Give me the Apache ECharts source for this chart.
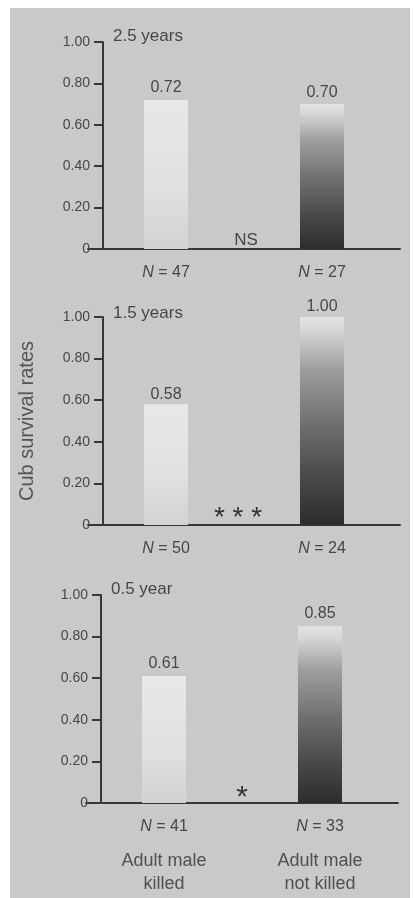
<!DOCTYPE html>
<html>
<head>
<meta charset="utf-8">
<script src="https://cdn.jsdelivr.net/npm/echarts@6/dist/echarts.min.js"></script>
<style>
  html, body { margin: 0; padding: 0; background: #ffffff; }
  #bg { position: absolute; left: 10px; top: 8px; right: 4px; bottom: 0; background: #c9c9c9; }
  #chart { position: absolute; left: 0; top: 0; width: 414px; height: 898px; }
</style>
</head>
<body>
<div id="bg"></div>
<div id="chart"></div>
<script>
// ---- data ----
const panelTitles = ['2.5 years', '1.5 years', '0.5 year'];
const groups = ['Adult male\nkilled', 'Adult male\nnot killed'];
const killedRates = [0.72, 0.58, 0.61];
const notKilledRates = [0.70, 1.00, 0.85];
const killedN = [47, 50, 41];
const notKilledN = [27, 24, 33];
const significance = ['NS', '* * *', '*'];
const yTicks = [0, 0.2, 0.4, 0.6, 0.8, 1.0];
const yAxisTitle = 'Cub survival rates';

// ---- layout ----
const FONT = '"Liberation Sans", Arial, sans-serif';
const TXT = '#474747';
const AX = '#383838';
const panelTops = [42, 317, 595];
const panelH = 207;
const titleOffsets = [-14, -12, -14];
const labelDist = [4, 2, 5];

const chart = echarts.init(document.getElementById('chart'), null, { renderer: 'canvas' });

const lightGrad = new echarts.graphic.LinearGradient(0, 0, 0, 1, [
  { offset: 0, color: '#e8e8e8' },
  { offset: 0.6, color: '#e0e0e0' },
  { offset: 1, color: '#d2d2d2' }
]);
const darkGrad = new echarts.graphic.LinearGradient(0, 0, 0, 1, [
  { offset: 0, color: '#e2e2e2' },
  { offset: 0.06, color: '#d8d8d8' },
  { offset: 0.25, color: '#9e9e9e' },
  { offset: 0.55, color: '#6a6a6a' },
  { offset: 0.8, color: '#454545' },
  { offset: 1, color: '#2c2c2c' }
]);

const grids = [], xAxes = [], yAxes = [], series = [], titles = [], graphics = [];
const sigPos = [[246, 240], [238, 518], [242, 798]];
const sigSize = [17, 28, 30];

for (let p = 0; p < 3; p++) {
  const shift = p === 2 ? -2 : 0;
  grids.push({ left: 88 + shift, width: 312, top: panelTops[p], height: panelH + (p === 0 ? 0 : 1) });
  const cats = [0, 1].map(i => {
    const n = i === 0 ? killedN[p] : notKilledN[p];
    let s = '{i|N}{n| = ' + n + '}';
    if (p === 2) {
      const lines = groups[i].split('\n');
      s += '\n{s| }\n' + lines.map(l => '{g|' + l + '}').join('\n');
    }
    return s;
  });
  xAxes.push({
    type: 'category', gridIndex: p, data: cats,
    axisLine: { show: true, lineStyle: { color: AX, width: 2 } },
    axisTick: { show: false },
    axisLabel: {
      margin: 14, color: TXT, fontFamily: FONT, interval: 0,
      rich: {
        i: { fontStyle: 'italic', fontSize: 16, lineHeight: 20, color: TXT, fontFamily: FONT },
        n: { fontSize: 16, lineHeight: 20, color: TXT, fontFamily: FONT },
        s: { fontSize: 4, lineHeight: 13 },
        g: { fontSize: 18, lineHeight: 23, color: '#505050', fontFamily: FONT }
      }
    }
  });
  yAxes.push({
    type: 'value', gridIndex: p, min: 0, max: 1, interval: 0.2, offset: -15,
    name: p === 1 ? yAxisTitle : '',
    nameLocation: 'middle', nameGap: 66, nameRotate: 90,
    nameTextStyle: { fontSize: 20, color: '#555', fontFamily: FONT },
    axisLine: { show: true, lineStyle: { color: AX, width: 2 } },
    axisTick: { show: true, inside: false, length: 9, lineStyle: { color: AX, width: 2 } },
    splitLine: { show: false },
    axisLabel: {
      margin: 13, color: TXT, fontSize: 14, fontFamily: FONT,
      formatter: v => v === 0 ? '0' : v.toFixed(2)
    }
  });
  series.push({
    type: 'bar', xAxisIndex: p, yAxisIndex: p, barWidth: 44,
    data: [
      { value: killedRates[p], itemStyle: { color: lightGrad } },
      { value: notKilledRates[p], itemStyle: { color: darkGrad } }
    ],
    label: {
      show: true, position: 'top', distance: labelDist[p], color: TXT, fontSize: 16, fontFamily: FONT,
      formatter: d => d.value.toFixed(2)
    },
    silent: true
  });
  titles.push({
    text: panelTitles[p], left: 113 + shift, top: panelTops[p] + titleOffsets[p], padding: 0,
    textStyle: { fontSize: 17, fontWeight: 'normal', color: TXT, fontFamily: FONT }
  });
  graphics.push({
    type: 'text', x: sigPos[p][0], y: sigPos[p][1],
    style: {
      text: significance[p], fill: p === 0 ? TXT : '#333',
      font: sigSize[p] + 'px ' + FONT, textAlign: 'center', textVerticalAlign: 'middle'
    }
  });
}

chart.setOption({
  backgroundColor: 'transparent',
  animation: false,
  title: titles,
  grid: grids,
  xAxis: xAxes,
  yAxis: yAxes,
  series: series,
  graphic: graphics
});
</script>
</body>
</html>
